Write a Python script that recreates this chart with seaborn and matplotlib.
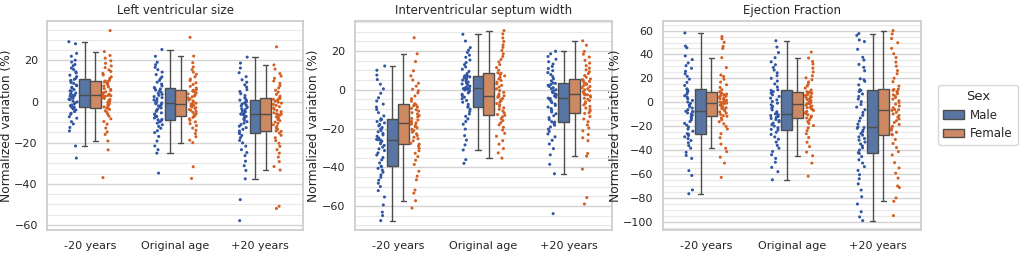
import numpy as np
import pandas as pd
import matplotlib
matplotlib.use("Agg")
import matplotlib.pyplot as plt
from matplotlib.ticker import MultipleLocator
import seaborn as sns

ages = ["-20 years", "Original age", "+20 years"]
sexes = ["Male", "Female"]
titles = ["Left ventricular size", "Interventricular septum width", "Ejection Fraction"]

# ---------- Left ventricular size ----------
lv_minus_male = [-27.5, -21.6, -14.3, -12.6, -10.9, -9.8, -8.1, -7.4, -6.2, -5.7, -4.9, -4.1, -3.6, -3.1, -2.8,
                 -2.6, -2.0, -1.7, -1.0, -0.7, -0.2, 0.3, 0.9, 1.1, 1.7, 1.9, 2.4, 2.6, 2.9, 3.0,
                 3.1, 3.7, 4.1, 4.9, 5.2, 5.8, 6.5, 6.9, 7.7, 8.0, 8.8, 9.2, 9.9, 10.3, 10.8,
                 11.2, 12.1, 12.8, 13.9, 14.5, 15.6, 16.3, 17.4, 18.0, 19.2, 20.1, 22.0, 23.4, 28.1, 29.1]
lv_minus_female = [-37.0, -23.5, -19.2, -16.0, -14.8, -12.9, -11.0, -9.7, -8.4, -7.1, -6.2, -5.3, -4.5, -3.8, -3.3,
                   -3.1, -2.6, -2.0, -1.5, -1.1, -0.4, 0.1, 0.6, 1.0, 1.5, 1.9, 2.3, 2.6, 2.8, 3.0,
                   3.1, 3.6, 4.3, 4.7, 5.4, 5.9, 6.3, 7.1, 7.5, 8.1, 8.6, 9.0, 9.5, 9.8, 10.0,
                   10.4, 11.3, 12.0, 12.9, 13.7, 14.6, 15.4, 16.5, 17.3, 18.6, 19.8, 21.1, 22.4, 24.3, 34.5]
lv_orig_male = [-34.8, -25.1, -23.4, -21.6, -19.2, -17.0, -15.1, -14.2, -13.0, -12.1, -11.3, -10.5, -9.9, -9.3, -8.9,
                -8.7, -8.0, -7.3, -6.8, -6.1, -5.5, -4.8, -4.2, -3.7, -3.1, -2.6, -2.1, -1.6, -1.1, -0.9,
                -0.7, -0.3, 0.2, 0.8, 1.4, 1.9, 2.4, 3.0, 3.5, 4.0, 4.6, 5.1, 5.6, 6.1, 6.5,
                6.8, 7.6, 8.5, 9.4, 10.3, 11.2, 12.0, 13.1, 14.3, 15.5, 16.6, 17.9, 19.1, 22.0, 25.3]
lv_orig_female = [-37.4, -31.7, -20.0, -18.8, -17.1, -15.6, -14.0, -12.9, -11.7, -10.8, -9.9, -9.1, -8.4, -7.7, -7.1,
                  -6.9, -6.4, -5.9, -5.3, -4.8, -4.3, -3.9, -3.4, -3.0, -2.6, -2.2, -1.9, -1.6, -1.4, -1.3,
                  -1.2, -0.8, -0.3, 0.3, 0.8, 1.2, 1.8, 2.3, 2.7, 3.2, 3.7, 4.2, 4.7, 5.1, 5.5,
                  5.8, 6.6, 7.4, 8.3, 9.1, 10.2, 10.9, 12.0, 13.2, 14.3, 15.5, 16.8, 18.9, 22.1, 31.2]
lv_plus_male = [-57.9, -47.7, -37.6, -33.5, -31.2, -29.0, -26.3, -24.8, -23.4, -21.7, -20.1, -18.9, -17.6, -16.5, -15.6,
                -15.2, -14.3, -13.5, -12.7, -12.0, -11.2, -10.5, -9.8, -9.1, -8.4, -7.8, -7.2, -6.7, -6.3, -6.1,
                -6.0, -5.6, -5.0, -4.6, -4.0, -3.5, -3.0, -2.6, -2.1, -1.6, -1.2, -0.7, -0.2, 0.3, 0.7,
                0.9, 1.8, 2.9, 3.8, 4.9, 5.8, 7.0, 8.1, 9.4, 10.6, 12.1, 14.0, 16.3, 18.7, 21.6]
lv_plus_female = [-52.0, -50.9, -33.3, -31.6, -29.2, -27.0, -25.1, -23.4, -21.8, -20.3, -19.0, -17.6, -16.4, -15.3, -14.5,
                  -14.3, -13.5, -12.8, -12.0, -11.3, -10.6, -10.0, -9.3, -8.7, -8.1, -7.5, -7.0, -6.6, -6.3, -6.1,
                  -6.0, -5.5, -4.9, -4.3, -3.7, -3.1, -2.5, -1.9, -1.4, -0.8, -0.3, 0.2, 0.7, 1.1, 1.5,
                  1.7, 2.6, 3.5, 4.6, 5.5, 6.6, 7.7, 8.8, 10.0, 11.3, 12.4, 13.6, 15.8, 17.8, 26.6]

# ---------- Interventricular septum width ----------
ivs_minus_male = [-67.6, -65.0, -63.2, -59.5, -55.4, -52.1, -50.0, -48.3, -46.7, -45.2, -44.0, -42.6, -41.5, -40.6, -39.8,
                  -39.5, -37.8, -36.2, -35.0, -33.7, -32.6, -31.4, -30.5, -29.6, -28.7, -27.9, -27.2, -26.6, -26.0, -25.8,
                  -25.6, -24.9, -24.0, -23.3, -22.5, -21.7, -21.0, -20.3, -19.5, -18.6, -17.9, -17.1, -16.4, -15.7, -15.3,
                  -15.0, -13.5, -11.8, -10.2, -8.9, -7.4, -5.8, -4.1, -1.8, 0.5, 2.9, 5.3, 7.6, 10.1, 12.3]
ivs_minus_female = [-61.1, -57.3, -53.4, -51.8, -46.5, -44.6, -42.1, -38.6, -36.4, -34.5, -32.8, -31.5, -30.2, -29.0, -28.1,
                    -27.7, -26.4, -25.3, -24.5, -23.6, -22.7, -21.9, -21.1, -20.4, -19.6, -19.0, -18.4, -17.8, -17.4, -17.3,
                    -17.1, -16.3, -15.6, -14.8, -14.0, -13.3, -12.5, -11.8, -11.0, -10.3, -9.6, -8.9, -8.3, -7.8, -7.5,
                    -7.2, -5.9, -4.6, -3.2, -1.6, -0.5, 0.3, 1.9, 3.4, 5.0, 7.2, 9.8, 14.6, 18.6, 26.9]
ivs_orig_male = [-38.0, -36.1, -31.1, -28.5, -26.0, -23.7, -20.3, -17.8, -16.4, -15.0, -13.7, -12.5, -11.2, -10.1, -9.0,
                 -8.6, -7.5, -6.4, -5.5, -4.6, -3.8, -3.0, -2.3, -1.6, -1.0, -0.5, -0.1, 0.3, 0.6, 0.8,
                 0.9, 1.4, 1.9, 2.5, 3.0, 3.5, 4.0, 4.5, 5.0, 5.4, 5.8, 6.3, 6.7, 7.0, 7.2,
                 7.5, 8.4, 9.5, 10.6, 11.8, 13.0, 14.1, 15.4, 16.8, 17.9, 19.3, 20.5, 21.8, 25.2, 28.7]
ivs_orig_female = [-35.3, -32.6, -30.4, -28.1, -26.3, -24.0, -22.5, -20.8, -19.4, -18.1, -17.0, -15.9, -14.9, -14.0, -13.2,
                   -12.8, -11.9, -11.0, -10.1, -9.3, -8.5, -7.8, -7.1, -6.4, -5.7, -5.1, -4.5, -3.9, -3.4, -3.3,
                   -3.1, -2.2, -1.3, -0.4, 0.5, 1.4, 2.3, 3.1, 3.9, 4.8, 5.6, 6.4, 7.2, 7.9, 8.5,
                   8.8, 10.1, 11.5, 13.0, 14.4, 15.7, 17.2, 18.6, 20.3, 21.9, 23.2, 25.0, 26.8, 28.9, 30.6]
ivs_plus_male = [-64.0, -43.4, -38.5, -33.6, -30.4, -28.0, -26.1, -24.3, -22.8, -21.5, -20.3, -19.2, -18.3, -17.4, -16.7,
                 -16.5, -15.4, -14.4, -13.4, -12.4, -11.5, -10.6, -9.7, -8.9, -8.1, -7.3, -6.6, -5.9, -5.1, -4.5,
                 -4.3, -3.8, -3.2, -2.6, -2.1, -1.5, -1.0, -0.5, 0.0, 0.6, 1.1, 1.7, 2.3, 2.8, 3.3,
                 3.5, 4.6, 5.7, 6.8, 7.9, 8.9, 9.9, 11.0, 12.1, 13.3, 14.5, 15.8, 17.2, 18.6, 19.9]
ivs_plus_female = [-59.0, -55.7, -41.0, -34.3, -32.9, -26.3, -24.8, -23.1, -21.2, -19.7, -18.2, -16.5, -15.1, -13.8, -12.2,
                   -11.9, -11.0, -10.2, -9.4, -8.6, -7.8, -7.0, -6.3, -5.6, -4.9, -4.3, -3.7, -3.1, -2.6, -2.5,
                   -2.3, -1.7, -1.1, -0.5, 0.0, 0.6, 1.1, 1.7, 2.2, 2.7, 3.2, 3.8, 4.3, 4.8, 5.3,
                   5.6, 6.5, 7.4, 8.4, 9.3, 10.3, 11.2, 12.5, 13.8, 15.2, 16.9, 18.4, 19.8, 23.0, 25.3]

# ---------- Ejection Fraction ----------
ef_minus_male = [-76.7, -73.5, -61.4, -57.3, -47.1, -44.6, -42.0, -38.5, -36.4, -34.0, -32.1, -30.5, -29.0, -27.9, -26.8,
                 -26.4, -24.3, -22.5, -20.8, -19.2, -17.7, -16.2, -14.8, -13.5, -12.2, -11.0, -9.9, -8.9, -8.1, -7.8,
                 -7.6, -6.2, -4.9, -3.6, -2.3, -1.0, 0.2, 1.5, 2.8, 4.1, 5.4, 6.8, 8.1, 9.5, 10.8,
                 11.2, 14.0, 16.6, 19.3, 21.7, 23.8, 25.9, 28.4, 30.6, 32.9, 35.7, 38.8, 45.6, 47.0, 58.0]
ef_minus_female = [-63.0, -51.0, -46.0, -41.4, -38.6, -35.1, -29.8, -26.4, -22.5, -20.3, -18.1, -16.4, -14.7, -13.2, -11.8,
                   -11.3, -10.2, -9.1, -8.1, -7.2, -6.3, -5.5, -4.7, -3.9, -3.2, -2.5, -1.8, -1.2, -0.7, -0.6,
                   -0.4, 0.2, 0.9, 1.6, 2.3, 3.0, 3.7, 4.4, 5.0, 5.6, 6.2, 6.8, 7.4, 7.9, 8.3,
                   8.7, 10.5, 12.4, 14.6, 16.9, 19.2, 21.5, 22.8, 29.0, 37.3, 45.0, 46.8, 50.2, 53.1, 55.0]
ef_orig_male = [-65.0, -58.2, -54.6, -50.3, -47.1, -44.0, -41.3, -38.5, -36.2, -33.4, -31.0, -29.1, -27.0, -25.2, -23.3,
                -22.8, -21.4, -20.0, -18.7, -17.5, -16.4, -15.4, -14.5, -13.6, -12.8, -12.0, -11.2, -10.5, -9.9, -9.7,
                -9.5, -8.0, -6.5, -5.0, -3.6, -2.2, -0.8, 0.6, 2.0, 3.4, 4.8, 6.2, 7.6, 8.9, 9.9,
                10.4, 12.8, 15.3, 17.7, 20.0, 22.2, 24.6, 26.9, 29.1, 31.4, 33.8, 37.3, 41.6, 46.2, 51.5]
ef_orig_female = [-62.0, -51.0, -44.9, -41.8, -37.2, -33.5, -29.6, -26.4, -23.8, -21.5, -19.6, -17.8, -16.2, -14.8, -13.2,
                  -12.8, -11.6, -10.5, -9.5, -8.6, -7.7, -6.9, -6.1, -5.3, -4.6, -3.9, -3.2, -2.5, -1.6, -1.2,
                  -1.0, -0.2, 0.6, 1.4, 2.1, 2.9, 3.6, 4.3, 4.9, 5.6, 6.2, 6.8, 7.4, 8.0, 8.4,
                  8.7, 10.2, 11.8, 13.6, 15.3, 17.0, 18.8, 20.4, 22.1, 25.3, 28.5, 32.0, 34.1, 37.0, 42.0]
ef_plus_male = [-99.2, -96.1, -91.8, -85.3, -79.2, -73.6, -68.4, -64.1, -60.7, -57.2, -54.0, -51.0, -48.2, -45.6, -42.9,
                -42.2, -40.1, -38.3, -36.6, -35.0, -33.4, -31.8, -30.4, -29.0, -27.6, -26.2, -24.8, -23.5, -21.8, -21.3,
                -20.9, -18.4, -15.8, -13.3, -11.0, -8.6, -6.3, -4.1, -1.9, 0.4, 2.6, 4.8, 6.9, 8.9, 9.9,
                10.4, 14.5, 17.5, 18.8, 19.6, 26.4, 29.2, 31.7, 35.3, 37.6, 44.3, 50.8, 52.1, 56.0, 57.5]
ef_plus_female = [-95.0, -83.0, -80.2, -71.5, -70.2, -63.6, -59.5, -55.1, -50.6, -44.2, -41.4, -38.0, -34.6, -31.2, -27.4,
                  -27.0, -25.2, -23.4, -21.8, -20.2, -18.6, -17.0, -15.5, -14.0, -12.6, -11.2, -9.8, -8.4, -6.9, -6.4,
                  -6.2, -4.6, -3.1, -1.6, -0.2, 1.2, 2.6, 3.9, 5.1, 6.2, 7.2, 8.1, 9.0, 9.9, 10.6,
                  10.9, 13.5, 17.2, 20.1, 23.8, 26.5, 30.2, 33.6, 37.4, 40.6, 45.1, 49.8, 53.3, 57.2, 60.0]

panel_groups = [
    [lv_minus_male, lv_minus_female, lv_orig_male, lv_orig_female, lv_plus_male, lv_plus_female],
    [ivs_minus_male, ivs_minus_female, ivs_orig_male, ivs_orig_female, ivs_plus_male, ivs_plus_female],
    [ef_minus_male, ef_minus_female, ef_orig_male, ef_orig_female, ef_plus_male, ef_plus_female],
]


def make_frame(groups):
    rows = []
    k = 0
    for age in ages:
        for sex in sexes:
            for v in groups[k]:
                rows.append({"age": age, "sex": sex, "value": v})
            k += 1
    return pd.DataFrame(rows)


sns.set_theme(style="whitegrid")
plt.rcParams["font.family"] = ["DejaVu Sans"]

box_colors = {"Male": "#4c72b0", "Female": "#dd8452"}
point_colors = {"Male": "#2f55a4", "Female": "#d35f22"}

fig, axes = plt.subplots(1, 3, figsize=(10.21, 2.54), dpi=100)
positions = [
    [0.0465, 0.094, 0.2502, 0.823],
    [0.3477, 0.094, 0.2517, 0.823],
    [0.6494, 0.094, 0.2527, 0.823],
]

for i, ax in enumerate(axes):
    df = make_frame(panel_groups[i])
    sns.boxplot(data=df, x="age", y="value", hue="sex", order=ages, hue_order=sexes,
                palette=box_colors, width=0.25, showfliers=False, linecolor=".3",
                linewidth=1, ax=ax, legend=(i == 2))
    sns.stripplot(data=df, x="age", y="value", hue="sex", order=ages, hue_order=sexes,
                  palette=point_colors, dodge=True, jitter=True, size=2.2, linewidth=0,
                  legend=False, ax=ax)
    ax.set_position(positions[i])
    ax.set_title(titles[i], fontsize=8.5, pad=5)
    ax.set_xlabel("")
    ax.set_ylabel("Normalized variation (%)", fontsize=8.8, labelpad=1)
    ax.yaxis.set_major_locator(MultipleLocator(20))
    ax.yaxis.set_minor_locator(MultipleLocator(5))
    ax.grid(which="major", axis="y", color="#d2d2d2", lw=1)
    ax.grid(which="minor", axis="y", color="#e8e8e8", lw=0.8)
    ax.tick_params(axis="x", which="major", labelsize=8, pad=1.5)
    ax.tick_params(axis="y", which="major", labelsize=8, pad=1)
    ax.tick_params(axis="y", which="minor", length=0)

handles, labels = axes[2].get_legend_handles_labels()
axes[2].get_legend().remove()
fig.legend(handles, labels, title="Sex", loc="center left", bbox_to_anchor=(0.919, 0.547),
           fontsize=8.5, title_fontsize=9.5, handlelength=1.8, handletextpad=0.5,
           borderpad=0.4, borderaxespad=0)

fig.savefig("out.png", dpi=100)
